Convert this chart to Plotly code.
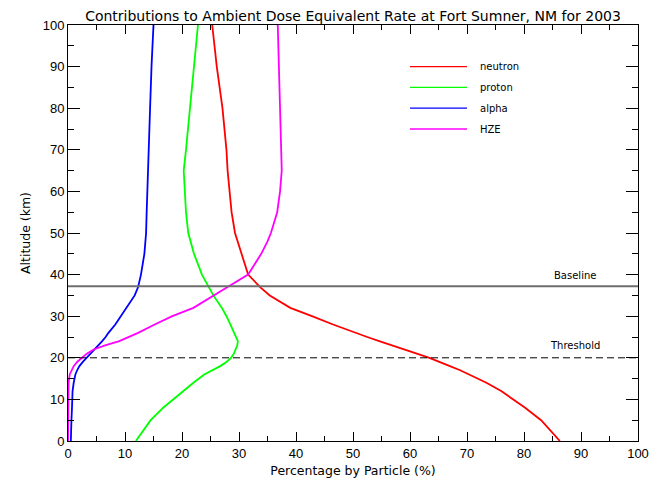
import plotly.graph_objects as go

# ---- data ----
altitude_km = [0, 2, 5, 8, 10, 12, 14, 16, 17, 18, 19, 20, 21, 22, 23, 24, 25, 26, 28, 30,
               32, 35, 37, 40, 45, 48, 50, 55, 60, 65, 70, 80, 90, 100]
neutron = [86.3, 85.0, 83.0, 80.2, 78.1, 76.0, 73.4, 70.5, 68.8, 67.0, 65.2, 63.4, 61.2,
           58.9, 56.8, 54.6, 52.5, 50.4, 46.5, 42.8, 39.0, 35.4, 33.7, 31.6, 30.4, 29.8,
           29.3, 28.7, 28.3, 28.0, 27.8, 27.1, 26.1, 25.3]
proton = [11.9, 12.9, 14.5, 16.7, 18.4, 20.2, 22.0, 23.9, 25.4, 26.7, 27.8, 28.6, 29.1,
          29.4, 29.7, 29.8, 29.5, 29.2, 28.5, 27.8, 27.0, 25.5, 24.7, 23.5, 22.1, 21.5,
          21.1, 20.7, 20.5, 20.3, 20.7, 21.4, 22.2, 22.8]
alpha = [0.5, 0.5, 0.6, 0.7, 0.75, 0.8, 1.0, 1.3, 1.6, 2.0, 2.6, 3.3, 3.9, 4.6, 5.3, 6.0,
         6.6, 7.1, 8.3, 9.3, 10.3, 11.7, 12.3, 12.8, 13.4, 13.6, 13.7, 13.8, 13.9, 14.0,
         14.2, 14.4, 14.65, 15.0]
hze = [0.0, 0.0, 0.0, 0.0, 0.0, 0.05, 0.1, 0.3, 0.6, 1.0, 1.6, 2.4, 3.3, 4.5, 6.5, 9.0,
       10.8, 12.3, 15.2, 18.3, 22.0, 25.5, 28.0, 31.6, 33.9, 35.0, 35.6, 36.7, 37.2, 37.5,
       37.4, 37.2, 37.0, 36.8]

series_names = ["neutron", "proton", "alpha", "HZE"]
series_values = [neutron, proton, alpha, hze]
series_colors = ["#ff0000", "#00ff00", "#0000ff", "#ff00ff"]

baseline_km = 37.2
threshold_km = 20.0
x_ticks = list(range(0, 101, 10))
y_ticks = list(range(0, 101, 10))

TITLE = "Contributions to Ambient Dose Equivalent Rate at Fort Sumner, NM for 2003"

fig = go.Figure()
for name, vals, col in zip(series_names, series_values, series_colors):
    fig.add_trace(go.Scatter(x=vals, y=altitude_km, mode="lines", name=name,
                             line=dict(color=col, width=1.8), showlegend=False))

# reference lines
fig.add_shape(type="line", xref="paper", x0=0, x1=1, yref="y", y0=baseline_km, y1=baseline_km,
              line=dict(color="#6e6e6e", width=1.8))
fig.add_shape(type="line", xref="paper", x0=0, x1=1, yref="y", y0=threshold_km, y1=threshold_km,
              line=dict(color="black", width=1, dash="7px,4px"))
fig.add_annotation(x=89, y=baseline_km + 2.6, text="Baseline", showarrow=False,
                   font=dict(family="DejaVu Sans", size=10, color="black"))
fig.add_annotation(x=89, y=threshold_km + 2.9, text="Threshold", showarrow=False,
                   font=dict(family="DejaVu Sans", size=10, color="black"))

# legend drawn in the plot (line swatch + label)
leg_y0 = 90
leg_dy = 5
for i, (name, col) in enumerate(zip(series_names, series_colors)):
    yy = leg_y0 - i * leg_dy
    fig.add_shape(type="line", x0=60, x1=70, y0=yy, y1=yy, line=dict(color=col, width=1.3))
    fig.add_annotation(x=72, y=yy, text=name, showarrow=False, xanchor="left",
                       font=dict(family="DejaVu Sans", size=10, color="black"))

axis_common = dict(range=[0, 100], showgrid=False, zeroline=False, showline=True,
                   linecolor="black", linewidth=1, mirror="ticks", ticks="inside",
                   tickcolor="black", tickwidth=1,
                   tickfont=dict(family="Liberation Sans", size=13, color="black"))

fig.update_layout(
    width=661, height=487, autosize=False,
    margin=dict(l=68, r=19, t=25, b=36),
    paper_bgcolor="white", plot_bgcolor="white",
    title=dict(text=TITLE, x=0.5, xref="paper", y=1 - 16 / 487, yref="container",
               xanchor="center", yanchor="middle",
               font=dict(family="DejaVu Sans", size=14, color="black")),
    xaxis=dict(**axis_common, tickvals=x_ticks, ticklen=9,
               minor=dict(dtick=5, ticks="inside", ticklen=5, tickcolor="black"),
               title=dict(text="Percentage by Particle (%)", standoff=6,
                          font=dict(family="DejaVu Sans", size=12.5, color="black"))),
    yaxis=dict(**axis_common, tickvals=y_ticks, ticklen=12,
               minor=dict(dtick=5, ticks="inside", ticklen=6, tickcolor="black"),
               title=dict(text="Altitude (km)", standoff=9,
                          font=dict(family="DejaVu Sans", size=12.5, color="black"))),
)

fig.write_html("out.html")
